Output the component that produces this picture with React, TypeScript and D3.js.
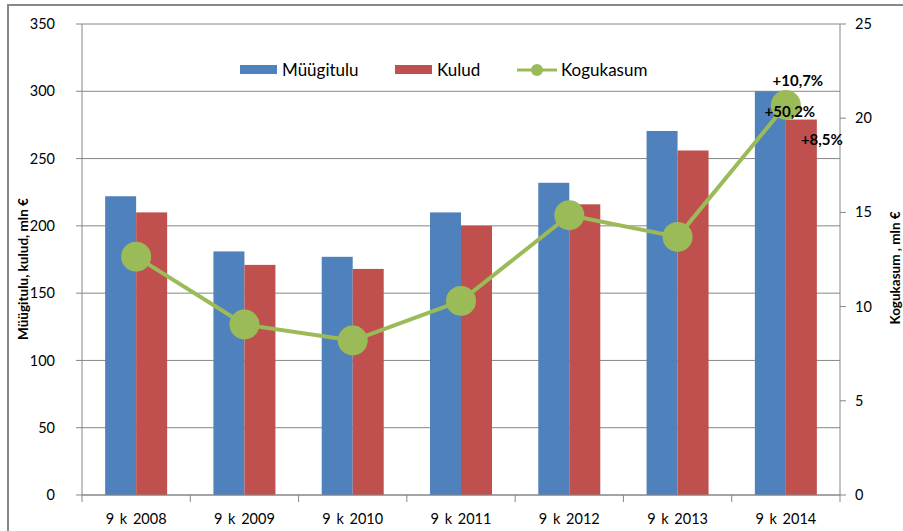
import React from "react";
import * as d3 from "d3";

const categories = ["9 k 2008", "9 k 2009", "9 k 2010", "9 k 2011", "9 k 2012", "9 k 2013", "9 k 2014"];
const myygitulu = [222, 181, 177, 210, 232, 270.5, 300];
const kulud = [210, 171, 168, 200, 216, 256, 279];
const kogukasum = [12.65, 9.05, 8.2, 10.3, 14.85, 13.7, 20.7];
const leftTicks = [0, 50, 100, 150, 200, 250, 300, 350];
const rightTicks = [0, 5, 10, 15, 20, 25];
const seriesNames = ["Müügitulu", "Kulud", "Kogukasum"];
const annotations = [
  { text: "+10,7%", dx: 12, dy: -24 },
  { text: "+50,2%", dx: 4, dy: 7 },
  { text: "+8,5%", dx: 36, dy: 35 },
];

const W = 903;
const H = 531;
const FONT = "Lato, 'Open Sans', sans-serif";
const BLUE = "#4F81BD";
const RED = "#C0504D";
const GREEN = "#9BBB59";
const GRID = "#868686";

export default function App() {
  const left = 82, right = 840, top = 24, bottom = 495;
  const x = d3.scaleBand<string>().domain(categories).range([left, right]);
  const yL = d3.scaleLinear().domain([0, 350]).range([bottom, top]);
  const yR = d3.scaleLinear().domain([0, 25]).range([bottom, top]);
  const barW = 31;
  const cx = (c: string) => (x(c) as number) + x.bandwidth() / 2;
  const line = d3.line<number>().x((_, i) => cx(categories[i])).y((d) => yR(d));
  const last = categories.length - 1;
  const lx = cx(categories[last]);
  const ly = yR(kogukasum[last]);

  return (
    <svg width={W} height={H} style={{ position: "absolute", left: 0, top: 0, background: "#fff" }}>
      <rect x={8} y={5} width={W} height={H} fill="#fff" stroke="#888" strokeWidth={2} />
      {leftTicks.map((t) => (
        <line key={"g" + t} x1={left} x2={right} y1={yL(t)} y2={yL(t)} stroke={GRID} strokeWidth={1} />
      ))}
      {categories.map((c, i) => (
        <g key={c}>
          <rect x={cx(c) - barW} y={yL(myygitulu[i])} width={barW} height={bottom - yL(myygitulu[i])} fill={BLUE} />
          <rect x={cx(c)} y={yL(kulud[i])} width={barW} height={bottom - yL(kulud[i])} fill={RED} />
        </g>
      ))}
      {/* axes */}
      <line x1={left} x2={left} y1={top} y2={bottom} stroke={GRID} />
      <line x1={right} x2={right} y1={top} y2={bottom} stroke={GRID} />
      <line x1={left} x2={right} y1={bottom} y2={bottom} stroke={GRID} />
      {leftTicks.map((t) => (
        <g key={"l" + t}>
          <line x1={left - 6} x2={left} y1={yL(t)} y2={yL(t)} stroke={GRID} />
          <text x={55} y={yL(t)} dy="0.35em" textAnchor="end" fontFamily={FONT} fontSize={14.5} fill="#000">{t}</text>
        </g>
      ))}
      {rightTicks.map((t) => (
        <g key={"r" + t}>
          <line x1={right} x2={right + 6} y1={yR(t)} y2={yR(t)} stroke={GRID} />
          <text x={855} y={yR(t)} dy="0.35em" textAnchor="start" fontFamily={FONT} fontSize={14.5} fill="#000">{t}</text>
        </g>
      ))}
      {categories.map((c, i) => (
        <g key={"x" + c}>
          <line x1={x(c) as number} x2={x(c) as number} y1={bottom} y2={bottom + 7} stroke={GRID} />
          {i === last && <line x1={right} x2={right} y1={bottom} y2={bottom + 7} stroke={GRID} />}
          <text x={cx(c)} y={519} dy="0.35em" textAnchor="middle" fontFamily={FONT} fontSize={14.5} fill="#000" style={{ wordSpacing: "2px" }}>{c}</text>
        </g>
      ))}
      {/* line series */}
      <path d={line(kogukasum) || ""} fill="none" stroke={GREEN} strokeWidth={4} strokeLinejoin="round" />
      {kogukasum.map((v, i) => (
        <circle key={"p" + i} cx={cx(categories[i])} cy={yR(v)} r={15} fill={GREEN} />
      ))}
      {/* annotations */}
      {annotations.map((a) => (
        <text key={a.text} x={lx + a.dx} y={ly + a.dy} dy="0.35em" textAnchor="middle" fontFamily={FONT} fontSize={15} fontWeight="bold" fill="#000">{a.text}</text>
      ))}
      {/* axis titles */}
      <text transform={`translate(23,269) rotate(-90)`} textAnchor="middle" dy="0.35em" fontFamily={FONT} fontSize={13.5} fontWeight="bold" fill="#000">Müügitulu, kulud, mln €</text>
      <text transform={`translate(895,268) rotate(-90)`} textAnchor="middle" dy="0.35em" fontFamily={FONT} fontSize={13.5} fontWeight="bold" fill="#000">Kogukasum , mln €</text>
      {/* legend */}
      <rect x={240} y={65} width={37} height={9} fill={BLUE} />
      <text x={282} y={70} dy="0.35em" fontFamily={FONT} fontSize={17} fill="#000">{seriesNames[0]}</text>
      <rect x={395} y={65} width={37} height={9} fill={RED} />
      <text x={437} y={70} dy="0.35em" fontFamily={FONT} fontSize={17} fill="#000">{seriesNames[1]}</text>
      <line x1={517} x2={557} y1={70} y2={70} stroke={GREEN} strokeWidth={3} />
      <circle cx={537} cy={70} r={6} fill={GREEN} />
      <text x={561} y={70} dy="0.35em" fontFamily={FONT} fontSize={17} fill="#000">{seriesNames[2]}</text>
    </svg>
  );
}
